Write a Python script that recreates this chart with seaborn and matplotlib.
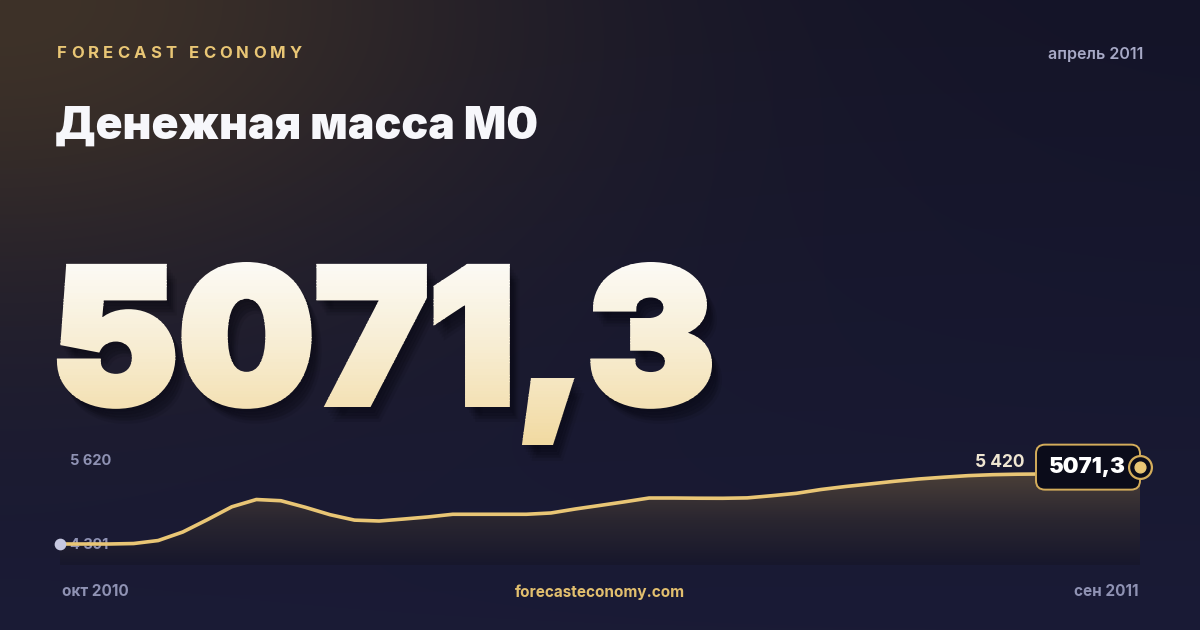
import numpy as np
import matplotlib
matplotlib.use('Agg')
import matplotlib.pyplot as plt
import seaborn as sns
from matplotlib.textpath import TextPath, TextToPath
from matplotlib.font_manager import FontProperties
from matplotlib.patches import PathPatch, FancyBboxPatch, Rectangle
from matplotlib.colors import LinearSegmentedColormap
from matplotlib.transforms import Affine2D

# M0 in quarter-month steps (oct 2010 .. sep 2011)
m0_values = [4391, 4391, 4391, 4398, 4442, 4567, 4748, 4938, 5045, 5027,
             4930, 4822, 4742, 4729, 4758, 4789, 4828, 4828, 4828, 4828,
             4847, 4906, 4958, 5011, 5067, 5067, 5064, 5063, 5069, 5101,
             5136, 5192, 5236, 5274, 5313, 5347, 5373, 5396, 5410, 5417,
             5420, 5420, 5419, 5418, 5418]
step_months = [i / 4 for i in range(len(m0_values))]
x_labels = ['окт 2010', 'сен 2011']
y_labels = [5620, 4391]
latest_value = '5071,3'
latest_date = 'апрель 2011'
title = 'Денежная масса М0'
brand = 'FORECAST ECONOMY'
site = 'forecasteconomy.com'

W, H = 1200, 630
GOLD = '#e9c675'
MUTED = '#8f92b3'

sns.set_theme(style='white')
plt.rcParams['font.family'] = ['Inter', 'DejaVu Sans']

fig = plt.figure(figsize=(W / 100, H / 100), dpi=100)

# background: navy with warm glow top-left
bg = fig.add_axes([0, 0, 1, 1], zorder=0)
bg.set_axis_off()
yy, xx = np.mgrid[0:H, 0:W]
base = np.array([20, 20, 40]) / 255 * (1 - yy / H)[..., None] + np.array([26, 27, 54]) / 255 * (yy / H)[..., None]
glow = np.exp(-((xx / 520.0) ** 2 + (yy / 300.0) ** 2))[..., None]
img = base * (1 - glow) + np.array([62, 50, 40]) / 255 * glow
bg.imshow(img, extent=(0, W, H, 0), origin='upper', aspect='auto', zorder=0)


def fmt(v):
    return f'{v:,}'.replace(',', ' ')


# letter-spaced brand
fp_brand = FontProperties(family=['Inter', 'DejaVu Sans'], weight='bold', size=12)
t2p = TextToPath()
widths = [t2p.get_text_width_height_descent(ch, fp_brand, ismath=False)[0] * 100 / 72 for ch in brand]
track = (302 - 57 - sum(widths)) / (len(brand) - 1)
cx = 57
for ch, w in zip(brand, widths):
    bg.text(cx, 53, ch, fontproperties=fp_brand, color=GOLD, va='center', ha='left')
    cx += w + track

bg.text(1143, 54, latest_date, color='#a7a9c6', fontsize=11.5, fontweight='semibold',
        ha='right', va='center')
bg.text(55, 127, title, color='#f7f7fb', fontsize=32, fontweight='black',
        ha='left', va='center')

# big number: heavy outline, vertical gradient built from horizontal bands
fp_big = FontProperties(family=['Inter', 'DejaVu Sans'], weight='black')
tp = TextPath((0, 0), latest_value, prop=fp_big, size=100)
ext = tp.get_extents()
dig = TextPath((0, 0), latest_value.replace(',', ''), prop=fp_big, size=100).get_extents()
grow = 3.5
x0, x1, top, baseline = 57 + grow, 712 - grow, 262 + grow, 407 - grow
sx = (x1 - x0) / ext.width
sy = (baseline - top) / dig.y1
big_path = Affine2D().translate(-ext.x0, 0).scale(sx, -sy).translate(x0, baseline).transform_path(tp)
for k in range(1, 6):
    sh = Affine2D().translate(2 * k, 3 * k).transform_path(big_path)
    bg.add_patch(PathPatch(sh, fc='#06060e', ec='#06060e', lw=grow * 1.44, alpha=0.10, zorder=1))
cm_big = LinearSegmentedColormap.from_list('big', ['#fcfbf8', '#f7ecd0', '#f1d9a0'])
bands = np.linspace(255, 445, 61)
for ya, yb in zip(bands[:-1], bands[1:]):
    c = cm_big((ya - 255) / 190)
    pp = PathPatch(big_path, fc=c, ec=c, lw=grow * 1.44, joinstyle='miter', zorder=2)
    bg.add_patch(pp)
    band = Rectangle((0, ya - 0.3), W, yb - ya + 0.6, transform=bg.transData)
    pp.set_clip_path(band)
bg.set_xlim(0, W)
bg.set_ylim(H, 0)

# footer
bg.text(62, 592, x_labels[0], color=MUTED, fontsize=11, fontweight='bold', ha='left', va='center')
bg.text(1138, 592, x_labels[1], color=MUTED, fontsize=11, fontweight='bold', ha='right', va='center')
bg.text(600, 592, site, color='#e2bf6e', fontsize=11, fontweight='bold', ha='center', va='center')

# chart
ax = fig.add_axes([60 / W, (H - 565) / H, 1080 / W, 125 / H], zorder=2)
ax.set_facecolor('none')
ax.set_axis_off()
y_lo = 4391 - (565 - 544) * 14.7
y_hi = 4391 + (544 - 440) * 14.7

fill = ax.fill_between(step_months, m0_values, y_lo, color='none', lw=0)
cm_fill = LinearSegmentedColormap.from_list('fill', ['#17172c', '#2a2630', '#4a3f38'])
fi = ax.imshow(np.linspace(0, 1, 256).reshape(-1, 1), extent=(0, step_months[-1], y_lo, max(m0_values)),
               origin='lower', aspect='auto', cmap=cm_fill, zorder=1)
fi.set_clip_path(fill.get_paths()[0], ax.transData)

for v in y_labels:
    ax.annotate(fmt(v), (0, v), xytext=(10, -1), textcoords='offset pixels',
                color=MUTED, fontsize=10.5, fontweight='bold', va='center', ha='left', zorder=2)

sns.lineplot(x=step_months, y=m0_values, ax=ax, color=GOLD, linewidth=2.6, zorder=3)
ax.scatter([step_months[0]], [m0_values[0]], s=55, color='#c6c8e0', zorder=4, clip_on=False)

imax = int(np.argmax(m0_values))
ax.annotate(fmt(max(m0_values)), (step_months[imax], m0_values[imax]), xytext=(-17, 12),
            textcoords='offset pixels', color='#efe6d2', fontsize=12.5, fontweight='bold',
            ha='right', va='center', zorder=5)
ax.set_xlim(0, step_months[-1])
ax.set_ylim(y_lo, y_hi)
if ax.get_legend():
    ax.get_legend().remove()

# badge with latest value, hung on the last point
ov = fig.add_axes([0, 0, 1, 1], zorder=3)
ov.set_axis_off()
ov.set_xlim(0, W)
ov.set_ylim(H, 0)
px, py = ax.transData.transform((step_months[-1], m0_values[-1]))
py = H - py
bx1, by = px, py - 7
ov.add_patch(FancyBboxPatch((bx1 - 104, by - 22.5), 104, 45, boxstyle='round,pad=0,rounding_size=9',
                            fc='#0b0c1a', ec='#d4ad5b', lw=1.4, zorder=1))
ov.text(bx1 - 14, by, latest_value, color='white', fontsize=16, fontweight='black',
        ha='right', va='center', zorder=2)
ov.scatter([bx1], [by], s=270, facecolor='#0b0c1a', edgecolor='#d4ad5b', linewidth=1.6, zorder=3)
ov.scatter([bx1], [by], s=60, color=GOLD, zorder=4)

fig.savefig('out.png', dpi=100)
